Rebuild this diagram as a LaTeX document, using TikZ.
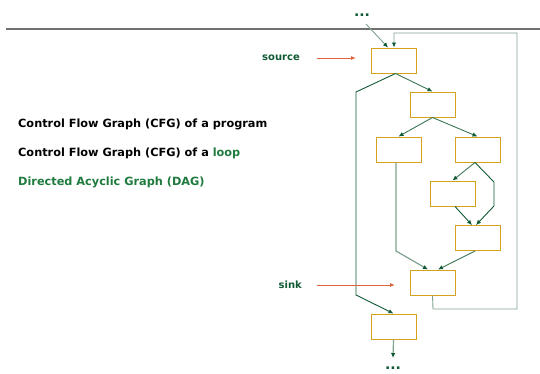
\documentclass[tikz,border=0pt]{standalone}
\usepackage{fontspec}
\setmainfont{DejaVu Sans}
\usetikzlibrary{arrows.meta}
\definecolor{dkg}{HTML}{0F5A34}
\definecolor{mdg}{HTML}{3A7656}
\definecolor{ltg}{HTML}{7FA28E}
\definecolor{gold}{HTML}{D4A21C}
\definecolor{redar}{HTML}{E0643C}
\definecolor{txtg}{HTML}{1F7A3E}
\definecolor{rule}{HTML}{707070}
\tikzset{
  blk/.style={draw=gold, line width=1pt, fill=white, minimum width=45pt, minimum height=25pt, inner sep=0pt},
  edge/.style={line width=0.9pt, -{Latex[length=5pt,width=4.5pt,color=dkg]}},
  redarrow/.style={draw=redar, line width=0.9pt, -{Latex[length=5pt,width=4pt]}},
  lbl/.style={font=\fontsize{10}{12}\selectfont\bfseries, text=dkg, inner sep=0pt},
  txt/.style={font=\fontsize{11.3}{14}\selectfont\bfseries, anchor=west, inner sep=0pt},
  dots/.style={font=\fontsize{14}{14}\selectfont\bfseries, text=dkg, inner sep=0pt}
}
\begin{document}
\begin{tikzpicture}[x=1pt,y=-1pt]
\useasboundingbox (0,0) rectangle (540,373);
\draw[rule, line width=1.2pt] (6,29) -- (540,29);
% boxes
\node[blk] (b1) at (393.5,60.5) {};
\node[blk] (b2) at (432.5,104.5) {};
\node[blk] (b3) at (398.5,149.5) {};
\node[blk] (b4) at (477.5,149.5) {};
\node[blk] (b5) at (452.5,193.5) {};
\node[blk] (b6) at (477.5,238) {};
\node[blk] (b7) at (432.5,282.5) {};
\node[blk] (b8) at (393.5,326.5) {};
% dots
\node[dots] (top) at (362,15) {...};
\node[dots] (bot) at (393,368.5) {...};
\coordinate (topend) at (366,24);
\coordinate (botend) at (393,358);
% coordinates for bends
\coordinate (l1) at (356,92);
\coordinate (l2) at (356,295);
\coordinate (r1) at (494,182);
\coordinate (r2) at (494,206);
\coordinate (m1) at (396,251);
\coordinate (k1) at (433,309);
\coordinate (k2) at (517,309);
\coordinate (k3) at (517,33);
\coordinate (k4) at (394,33);
% edges
\draw[edge, draw=ltg] (topend) -- ([xshift=-5.5pt]b1.north);
\draw[edge, draw=ltg] (b7.south) -- (k1) -- (k2) -- (k3) -- (k4) -- ([xshift=0.5pt]b1.north);
\draw[edge, draw=mdg] ([xshift=2pt]b1.south) -- (b2.north);
\draw[edge, draw=dkg] ([xshift=2pt]b1.south) -- (l1) -- (l2) -- (b8.north);
\draw[edge, draw=mdg] (b2.south) -- (b3.north);
\draw[edge, draw=mdg] (b2.south) -- (b4.north);
\draw[edge, draw=ltg, line width=1.2pt] ([xshift=-2.5pt]b3.south) -- (m1) -- ([xshift=-4.5pt]b7.north);
\draw[edge, draw=mdg] ([xshift=-2.5pt]b4.south) -- (b5.north);
\draw[edge, draw=dkg] ([xshift=-2.5pt]b4.south) -- (r1) -- (r2) -- ([xshift=-1.5pt]b6.north);
\draw[edge, draw=dkg] ([xshift=2.5pt]b5.south) -- ([xshift=-5.5pt]b6.north);
\draw[edge, draw=mdg] ([xshift=-2.5pt]b6.south) -- ([xshift=5.5pt]b7.north);
\draw[edge, draw=ltg, line width=1.2pt] (b8.south) -- (botend);
% labels
\node[lbl, anchor=east] (src) at (300,58) {source};
\node[lbl, anchor=east] (snk) at (302,285) {sink};
\coordinate (srcarr) at (356,58);
\coordinate (snkarr) at (395,285);
\draw[redarrow] ([xshift=17pt]src.east) -- (srcarr);
\draw[redarrow] ([xshift=15pt]snk.east) -- (snkarr);
% texts
\node[txt] (t1) at (18,124) {Control Flow Graph (CFG) of a program};
\node[txt] (t2) at (18,153) {Control Flow Graph (CFG) of a \textcolor{txtg}{loop}};
\node[txt, text=txtg] (t3) at (18,182) {Directed Acyclic Graph (DAG)};
\end{tikzpicture}
\end{document}
